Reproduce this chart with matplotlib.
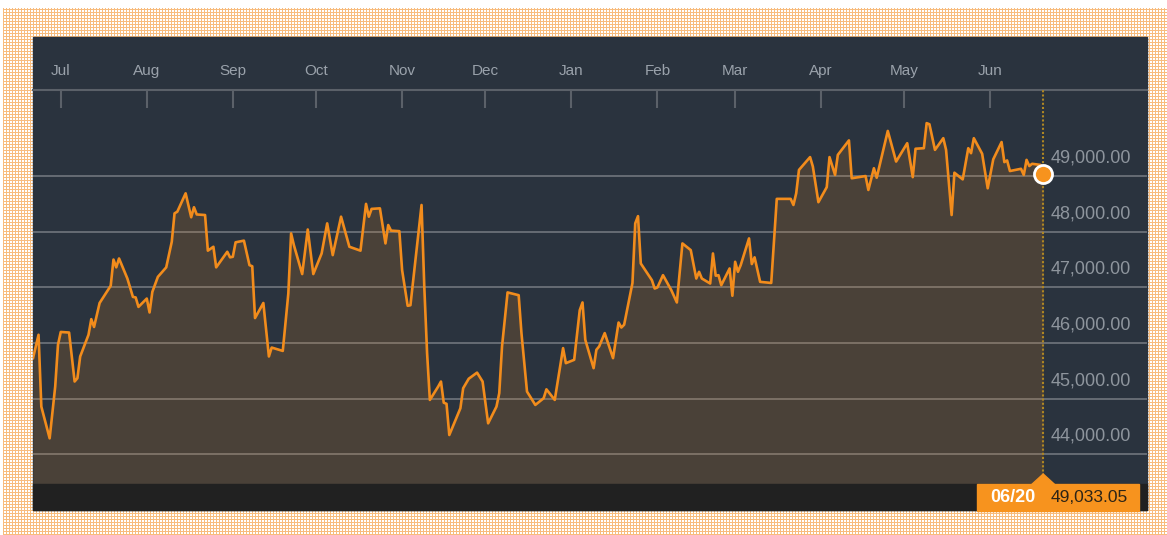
import numpy as np
import pandas as pd
import matplotlib
matplotlib.use("Agg")
import matplotlib.pyplot as plt
import matplotlib.dates as mdates
from matplotlib.patches import Rectangle, Polygon
from matplotlib.transforms import offset_copy

plt.rcParams['font.family'] = ['Liberation Sans', 'DejaVu Sans']

# ---- data (1 year of daily closes, vertices only) ----
dates = pd.to_datetime([
    '2016-06-21', '2016-06-23', '2016-06-24', '2016-06-27', '2016-06-29', '2016-06-30',
    '2016-07-01', '2016-07-04', '2016-07-06', '2016-07-07', '2016-07-08', '2016-07-11',
    '2016-07-12', '2016-07-13', '2016-07-15', '2016-07-19', '2016-07-20', '2016-07-21',
    '2016-07-22', '2016-07-25', '2016-07-27', '2016-07-28', '2016-07-29', '2016-08-01',
    '2016-08-02', '2016-08-03', '2016-08-05', '2016-08-08', '2016-08-10', '2016-08-11',
    '2016-08-12', '2016-08-15', '2016-08-17', '2016-08-18', '2016-08-19', '2016-08-22',
    '2016-08-23', '2016-08-25', '2016-08-26', '2016-08-30', '2016-08-31', '2016-09-01',
    '2016-09-02', '2016-09-05', '2016-09-07', '2016-09-08', '2016-09-09', '2016-09-12',
    '2016-09-14', '2016-09-15', '2016-09-19', '2016-09-21', '2016-09-22', '2016-09-23',
    '2016-09-26', '2016-09-28', '2016-09-30', '2016-10-03', '2016-10-05', '2016-10-07',
    '2016-10-10', '2016-10-13', '2016-10-17', '2016-10-19', '2016-10-20', '2016-10-21',
    '2016-10-24', '2016-10-26', '2016-10-27', '2016-10-28', '2016-10-31', '2016-11-01',
    '2016-11-03', '2016-11-04', '2016-11-08', '2016-11-09', '2016-11-10', '2016-11-11',
    '2016-11-14', '2016-11-15', '2016-11-16', '2016-11-17', '2016-11-18', '2016-11-22',
    '2016-11-23', '2016-11-25', '2016-11-28', '2016-11-30', '2016-12-02', '2016-12-05',
    '2016-12-06', '2016-12-07', '2016-12-09', '2016-12-13', '2016-12-14', '2016-12-16',
    '2016-12-19', '2016-12-22', '2016-12-23', '2016-12-26', '2016-12-29', '2016-12-30',
    '2017-01-02', '2017-01-04', '2017-01-05', '2017-01-06', '2017-01-09', '2017-01-10',
    '2017-01-11', '2017-01-13', '2017-01-16', '2017-01-18', '2017-01-19', '2017-01-20',
    '2017-01-23', '2017-01-24', '2017-01-25', '2017-01-26', '2017-01-30', '2017-01-31',
    '2017-02-01', '2017-02-03', '2017-02-06', '2017-02-08', '2017-02-10', '2017-02-13',
    '2017-02-15', '2017-02-16', '2017-02-17', '2017-02-20', '2017-02-21', '2017-02-22',
    '2017-02-23', '2017-02-24', '2017-02-27', '2017-02-28', '2017-03-01', '2017-03-02',
    '2017-03-03', '2017-03-06', '2017-03-07', '2017-03-08', '2017-03-10', '2017-03-14',
    '2017-03-16', '2017-03-21', '2017-03-22', '2017-03-23', '2017-03-24', '2017-03-28',
    '2017-03-29', '2017-03-31', '2017-04-03', '2017-04-04', '2017-04-06', '2017-04-07',
    '2017-04-11', '2017-04-12', '2017-04-17', '2017-04-18', '2017-04-20', '2017-04-21',
    '2017-04-25', '2017-04-28', '2017-05-02', '2017-05-04', '2017-05-05', '2017-05-08',
    '2017-05-09', '2017-05-10', '2017-05-12', '2017-05-15', '2017-05-16', '2017-05-18',
    '2017-05-19', '2017-05-22', '2017-05-24', '2017-05-25', '2017-05-26', '2017-05-29',
    '2017-05-31', '2017-06-02', '2017-06-05', '2017-06-06', '2017-06-07', '2017-06-08',
    '2017-06-12', '2017-06-13', '2017-06-14', '2017-06-15', '2017-06-16', '2017-06-19',
    '2017-06-20',
])
values = [
    45730, 46150, 44860, 44290, 45220, 45970,
    46200, 46190, 45310, 45370, 45760, 46150,
    46430, 46290, 46720, 47030, 47500, 47360,
    47520, 47160, 46830, 46820, 46650, 46800,
    46550, 46920, 47190, 47360, 47820, 48330,
    48360, 48690, 48260, 48440, 48310, 48300,
    47660, 47730, 47360, 47640, 47540, 47550,
    47810, 47840, 47400, 47380, 46450, 46720,
    45760, 45920, 45860, 46890, 47970, 47760,
    47240, 48040, 47240, 47610, 48150, 47580,
    48270, 47730, 47660, 48500, 48270, 48410,
    48420, 47790, 48120, 48020, 48010, 47310,
    46670, 46680, 48480, 47000, 45820, 44980,
    45220, 45310, 44930, 44910, 44350, 44830,
    45190, 45360, 45470, 45310, 44560, 44860,
    45100, 45940, 46910, 46860, 46180, 45130,
    44890, 45010, 45170, 44980, 45910, 45640,
    45700, 46590, 46730, 46060, 45550, 45880,
    45940, 46180, 45730, 46370, 46280, 46330,
    47080, 48150, 48280, 47430, 47130, 46980,
    47000, 47220, 46950, 46730, 47790, 47670,
    47160, 47280, 47160, 47070, 47610, 47210,
    47220, 47040, 47340, 46850, 47460, 47280,
    47400, 47880, 47420, 47540, 47100, 47080,
    48590, 48590, 48480, 48690, 49110, 49340,
    49170, 48530, 48800, 49340, 49020, 49380,
    49640, 48960, 49000, 48750, 49140, 48970,
    49810, 49260, 49590, 48980, 49490, 49500,
    49950, 49930, 49470, 49680, 49470, 48300,
    49060, 48940, 49500, 49410, 49680, 49400,
    48780, 49300, 49610, 49250, 49280, 49090,
    49130, 49020, 49290, 49180, 49220, 49200,
    49033.05,
]
yticks = [44000, 45000, 46000, 47000, 48000, 49000]

# ---- colours ----
PANEL = '#2a333e'
BAR = '#212121'
ORANGE = '#f28c1c'
GREY_LINE = '#5b6169'

W, H = 1167, 535
fig = plt.figure(figsize=(W / 100, H / 100), dpi=100)
fig.patch.set_facecolor('white')

def fx(x): return x / W
def fy(y): return 1 - y / H

# halftone orange frame behind the chart
yy, xx = np.mgrid[0:H, 0:W]
bg = np.ones((H, W, 3))
dots = ((yy % 3 == 0) | (xx % 3 == 0)) & (yy >= 8) & (xx >= 3)
bg[dots] = np.array([248, 188, 125]) / 255
fig.figimage(bg, xo=0, yo=0, origin='upper', zorder=-2)

# dark panel + bottom bar
fig.add_artist(Rectangle((fx(33), fy(510)), (1147 - 33) / W, (510 - 37) / H,
                         transform=fig.transFigure, color=PANEL, zorder=-1))
fig.add_artist(Rectangle((fx(33), fy(510)), (1147 - 33) / W, (510 - 484) / H,
                         transform=fig.transFigure, color=BAR, zorder=1))

ax = fig.add_axes([fx(33), fy(484), (1147 - 33) / W, (484 - 90) / H])
ax.set_facecolor(PANEL)

ymin, ymax = 43470, 50545
ax.fill_between(dates, values, ymin - 1000, color=ORANGE, alpha=0.16, lw=0, zorder=1)
ax.plot(dates, values, color=ORANGE, lw=1.9, zorder=2)
ax.axvline(dates[-1], color='#af8723', lw=1.5, ls=(0, (1, 1)), zorder=3)
ax.plot(dates[-1], values[-1], 'o', ms=13, mfc='#f7931e', mec='white', mew=2, zorder=4)

ax.set_ylim(ymin, ymax)
ax.set_xlim(dates[0], dates[-1] + pd.Timedelta(days=37.4))
ax.set_axisbelow(True)
ax.set_yticks(yticks)
ax.grid(axis='y', color='white', alpha=0.3, lw=1.3)
ax.tick_params(axis='y', length=0, labelleft=False)

# month ticks along the top
months = pd.date_range('2016-07-01', dates[-1], freq='MS')
ax.set_xticks(months)
ax.set_xticklabels([m.strftime('%b') for m in months])
ax.xaxis.set_ticks_position('top')
ax.tick_params(axis='x', direction='in', length=13, width=1.5, color=GREY_LINE,
               labelcolor='#9aa2ab', labelsize=11, pad=8.5)
for side in ['left', 'right', 'bottom']:
    ax.spines[side].set_visible(False)
ax.spines['top'].set_color(GREY_LINE)
ax.spines['top'].set_linewidth(1.5)

# value labels on the right, sitting above each gridline
ytr = offset_copy(ax.get_yaxis_transform(), fig=fig, x=-96, y=18, units='dots')
for v in yticks:
    ax.text(1.0, v, f'{v:,.2f}', transform=ytr, ha='left', va='center',
            fontsize=13, color='#8e959d')

# last-value tag under the dotted line
xp = ax.transData.transform((mdates.date2num(dates[-1]), values[-1]))[0]
tag = Rectangle((fx(xp - 66), fy(511)), 162 / W, (511 - 484) / H,
                transform=fig.transFigure, color='#f7931e', zorder=5)
tri = Polygon([(fx(xp), fy(474)), (fx(xp - 11.5), fy(484.5)), (fx(xp + 11.5), fy(484.5))],
              closed=True, transform=fig.transFigure, color='#f7931e', zorder=5)
fig.add_artist(tag)
fig.add_artist(tri)
fig.text(fx(xp - 30), fy(498), dates[-1].strftime('%m/%d'), ha='center', va='center',
         fontsize=13, fontweight='bold', color='white', zorder=6)
fig.text(fx(xp + 7), fy(498), f'{values[-1]:,.2f}', ha='left', va='center',
         fontsize=12.5, color='#2d2416', zorder=6)

fig.savefig('out.png', dpi=100)
